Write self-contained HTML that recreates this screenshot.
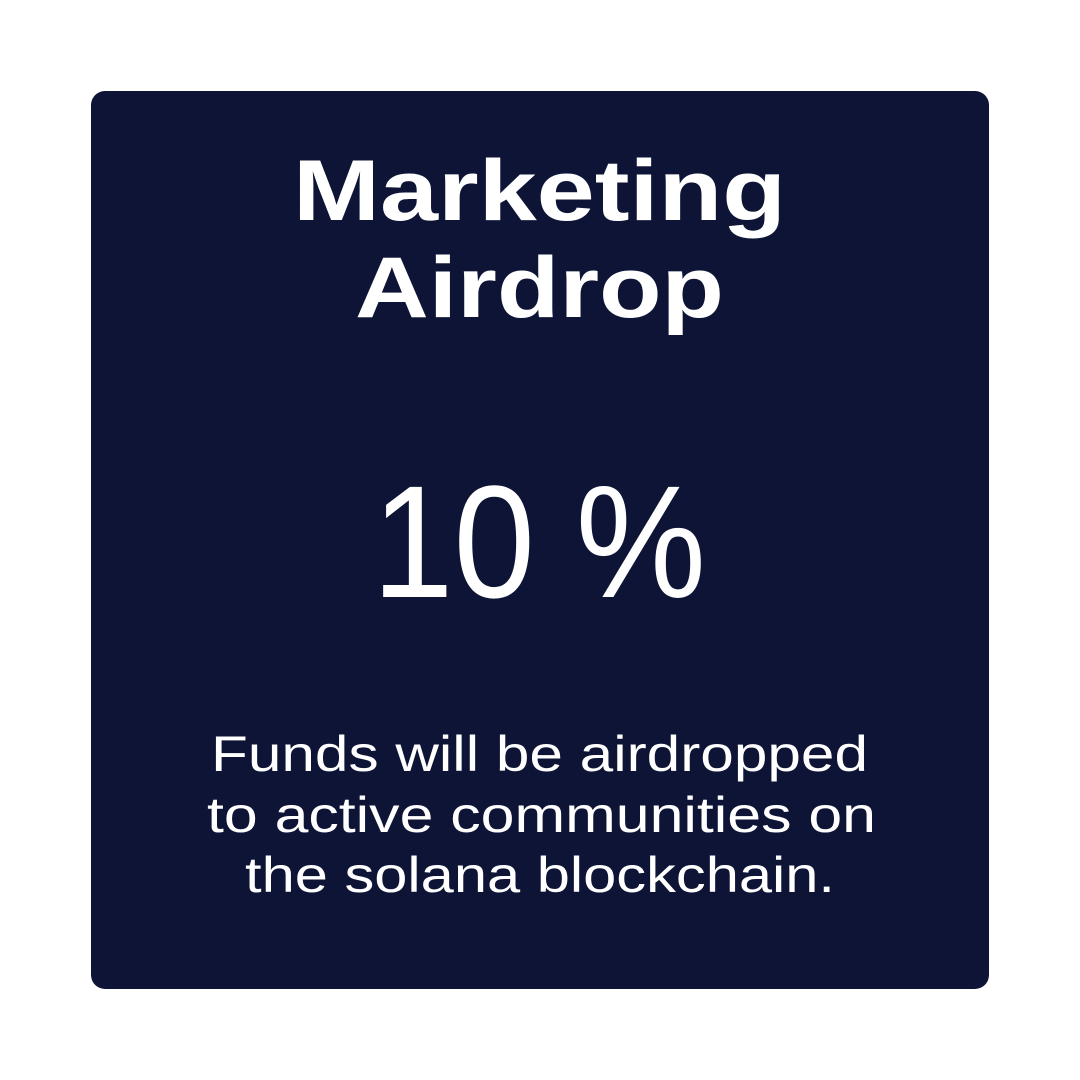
<!DOCTYPE html>
<html>
<head>
<meta charset="utf-8">
<style>
  html,body{margin:0;padding:0;background:#ffffff;width:1080px;height:1080px;overflow:hidden;}
  svg{display:block;}
  text{fill:#ffffff;font-family:"Liberation Sans",sans-serif;}
</style>
</head>
<body>
<svg width="1080" height="1080" viewBox="0 0 1080 1080">
  <rect x="91" y="91" width="898" height="898" rx="14" ry="14" fill="#0e1436"/>
  <text x="293" y="220" font-size="86" font-weight="bold" textLength="493" lengthAdjust="spacingAndGlyphs">Marketing</text>
  <text x="355" y="317" font-size="86" font-weight="bold" textLength="369" lengthAdjust="spacingAndGlyphs">Airdrop</text>
  <text x="372" y="597" font-size="160" textLength="334" lengthAdjust="spacingAndGlyphs">10 %</text>
  <text x="211" y="771" font-size="50" textLength="657" lengthAdjust="spacingAndGlyphs">Funds will be airdropped</text>
  <text x="207" y="832" font-size="50" textLength="669" lengthAdjust="spacingAndGlyphs">to active communities on</text>
  <text x="245" y="892" font-size="50" textLength="590" lengthAdjust="spacingAndGlyphs">the solana blockchain.</text>
</svg>
</body>
</html>
